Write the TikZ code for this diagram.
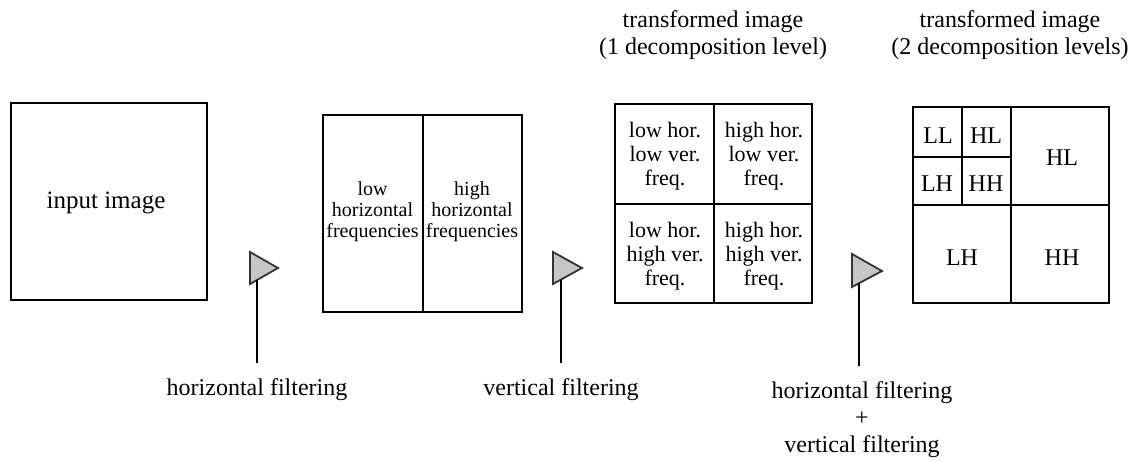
\documentclass[tikz,border=0pt]{standalone}
\usepackage{fontspec}
\setmainfont{Liberation Serif}
\begin{document}
\begin{tikzpicture}[x=0.5pt,y=-0.5pt,
  box/.style={draw, line width=1pt, inner sep=0pt},
  divider/.style={line width=1pt},
  txt/.style={inner sep=0pt, align=center},
  lbl/.style={inner sep=0pt, font=\fontsize{12}{13.5}\selectfont},
  celltxt/.style={inner sep=0pt, align=center, font=\fontsize{11}{12}\selectfont},
  bandtxt/.style={inner sep=0pt, font=\fontsize{12}{14}\selectfont},
  tri/.style={draw=black!80, fill=gray!45, line width=0.9pt, line join=miter},
  conn/.style={line width=0.9pt}]
\useasboundingbox (0,0) rectangle (1145,461);

% titles
\node[lbl, align=center] (title1) at (713,34.9) {transformed image\\(1 decomposition level)};
\node[lbl, align=center] (title2) at (1010,34.9) {transformed image\\(2 decomposition levels)};

% input image
\node[box, minimum width=98pt, minimum height=98.5pt] (in) at (109,201.5) {};
\node[inner sep=0pt, anchor=base, font=\fontsize{12.5}{15}\selectfont] (intxt) at (106,208) {input image};

% after horizontal filtering
\node[box, minimum width=99.5pt, minimum height=98.5pt] (hf) at (422.5,213.5) {};
\draw[divider] (hf.north) -- (hf.south);
\node[txt, font=\fontsize{10}{10.5}\selectfont] (lowh) at (372.5,211.3) {low\\horizontal\\frequencies};
\node[txt, font=\fontsize{10}{10.5}\selectfont] (highh) at (472,211.3) {high\\horizontal\\frequencies};

% one level
\node[box, minimum width=98.5pt, minimum height=99.5pt] (one) at (713.5,203.5) {};
\draw[divider] (one.north) -- (one.south);
\draw[divider] (one.west) -- (one.east);
\node[celltxt] (ll1) at (665,156) {low hor.\\low ver.\\freq.};
\node[celltxt] (hl1) at (764,156) {high hor.\\low ver.\\freq.};
\node[celltxt] (lh1) at (665,256) {low hor.\\high ver.\\freq.};
\node[celltxt] (hh1) at (764,256) {high hor.\\high ver.\\freq.};

% two levels
\node[box, minimum width=98pt, minimum height=98pt] (two) at (1011,205) {};
\draw[divider] (two.north) -- (two.south);
\draw[divider] (two.west) -- (two.east);
\coordinate (q1) at (962,107);
\coordinate (q2) at (962,205);
\coordinate (q3) at (913,157);
\coordinate (q4) at (1011,157);
\draw[divider] (q1) -- (q2);
\draw[divider] (q3) -- (q4);
\node[bandtxt, anchor=base] (ll2) at (938,143) {LL};
\node[bandtxt, anchor=base] (hl2) at (986,143) {HL};
\node[bandtxt, anchor=base] (lh2) at (937,191) {LH};
\node[bandtxt, anchor=base] (hh2) at (986,191) {HH};
\node[bandtxt, anchor=base] (hlb) at (1062,165) {HL};
\node[bandtxt, anchor=base] (lhb) at (962,265) {LH};
\node[bandtxt, anchor=base] (hhb) at (1062,265) {HH};

% filter triangles
\draw[tri] (250,252) -- (278,268) -- (250,284) -- cycle;
\draw[tri] (553,252) -- (582,268) -- (553,284) -- cycle;
\draw[tri] (852,254) -- (882,271) -- (852,287) -- cycle;

% labels
\node[lbl, anchor=base] (f1) at (257,395) {horizontal filtering};
\node[lbl, anchor=base] (f2) at (561,395) {vertical filtering};
\node[lbl, align=center] (f3) at (862,419.4) {horizontal filtering\\+\\vertical filtering};

% connectors
\coordinate (c1a) at (257,280);
\coordinate (c1b) at (257,363);
\coordinate (c2a) at (561,279.6);
\coordinate (c2b) at (561,363);
\coordinate (c3a) at (859,283);
\coordinate (c3b) at (859,366);
\draw[conn] (c1a) -- (c1b);
\draw[conn] (c2a) -- (c2b);
\draw[conn] (c3a) -- (c3b);
\end{tikzpicture}
\end{document}
